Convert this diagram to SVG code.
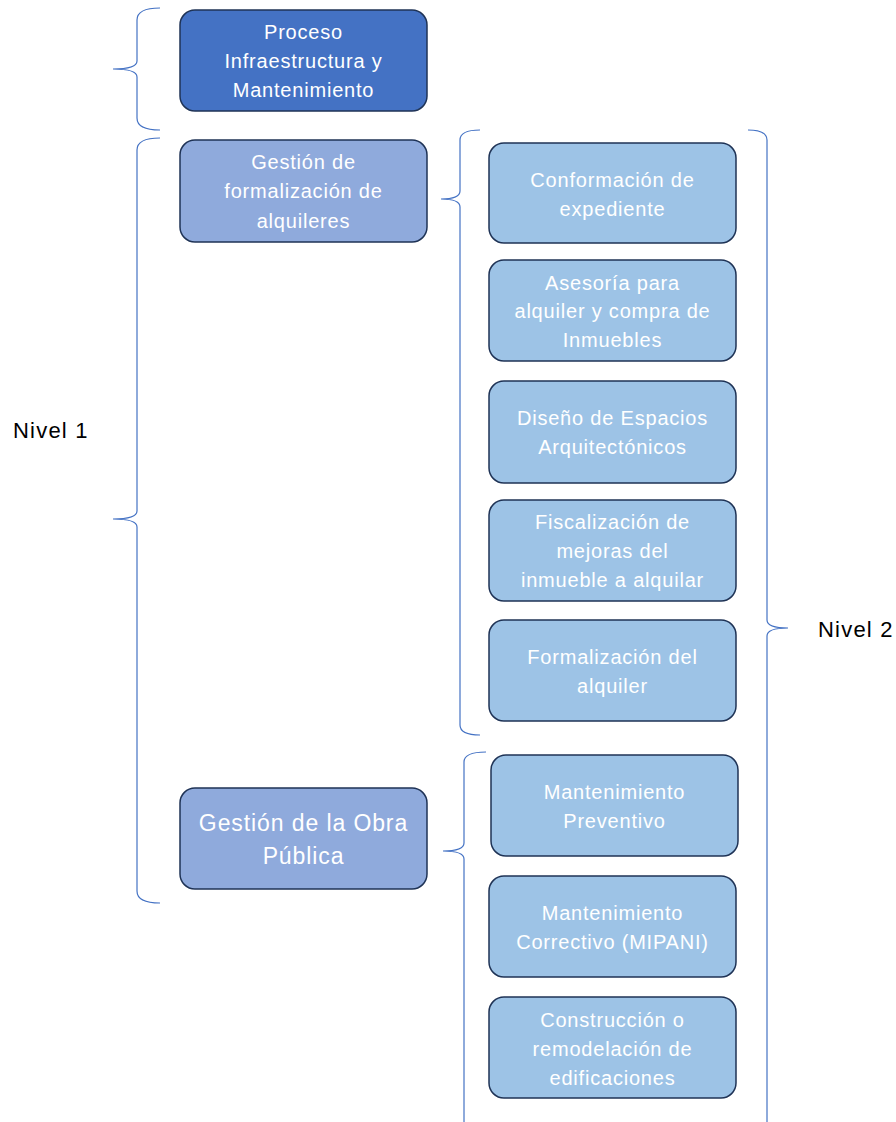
<svg xmlns="http://www.w3.org/2000/svg" width="896" height="1122" viewBox="0 0 896 1122">
<style>
.box{stroke:#1F3356;stroke-width:1.5}
.l0{fill:#4472C4}
.l1{fill:#8FAADC}
.l2{fill:#9DC3E6}
.t{font-family:"Liberation Sans",Arial,sans-serif;font-size:20px;fill:#FFFFFF;text-anchor:middle;letter-spacing:0.8px}
.tb{font-size:23px;letter-spacing:0.9px}
.lab{font-family:"Liberation Sans",Arial,sans-serif;font-size:22px;fill:#000000;letter-spacing:1.2px}
.br{fill:none;stroke:#4472C4;stroke-width:1.2}
</style>
<rect width="896" height="1122" fill="#FFFFFF"/>
<g id="connectors">
<path class="br" d="M160,8 Q137,8 137,20 L137,61 Q137,69 113,69 Q137,69 137,77 L137,118 Q137,130 160,130"/>
<path class="br" d="M160,138 Q137,138 137,150 L137,511 Q137,519 113,519 Q137,519 137,527 L137,891 Q137,903 160,903"/>
<path class="br" d="M480,130 Q460,130 460,140 L460,191 Q460,199 441,199 Q460,199 460,207 L460,725 Q460,735 480,735"/>
<path class="br" d="M748,130 Q767,130 767,140 L767,620 Q767,628 788,628 Q767,628 767,636 L767,1130"/>
<path class="br" d="M486,752 Q464,752 464,762 L464,843 Q464,851 443,851 Q464,851 464,859 L464,1130"/>
</g>
<g id="proceso">
<rect class="box l0" x="180" y="10" width="247" height="101" rx="15"/>
<text class="t" x="303.5" y="39">Proceso</text>
<text class="t" x="303.5" y="68">Infraestructura y</text>
<text class="t" x="303.5" y="97">Mantenimiento</text>
</g>
<g id="gestion-alquileres">
<rect class="box l1" x="180" y="140" width="247" height="102" rx="15"/>
<text class="t" x="303.5" y="169">Gestión de</text>
<text class="t" x="303.5" y="198">formalización de</text>
<text class="t" x="303.5" y="228">alquileres</text>
</g>
<g id="gestion-obra">
<rect class="box l1" x="180" y="788" width="247" height="101" rx="15"/>
<text class="t tb" x="303.5" y="831">Gestión de la Obra</text>
<text class="t tb" x="303.5" y="864">Pública</text>
</g>
<g id="conformacion">
<rect class="box l2" x="489" y="143" width="247" height="100" rx="15"/>
<text class="t" x="612.5" y="187">Conformación de</text>
<text class="t" x="612.5" y="216">expediente</text>
</g>
<g id="asesoria">
<rect class="box l2" x="489" y="260" width="247" height="101" rx="15"/>
<text class="t" x="612.5" y="290">Asesoría para</text>
<text class="t" x="612.5" y="318">alquiler y compra de</text>
<text class="t" x="612.5" y="347">Inmuebles</text>
</g>
<g id="diseno">
<rect class="box l2" x="489" y="381" width="247" height="102" rx="15"/>
<text class="t" x="612.5" y="425">Diseño de Espacios</text>
<text class="t" x="612.5" y="454">Arquitectónicos</text>
</g>
<g id="fiscalizacion">
<rect class="box l2" x="489" y="500" width="247" height="101" rx="15"/>
<text class="t" x="612.5" y="529">Fiscalización de</text>
<text class="t" x="612.5" y="558">mejoras del</text>
<text class="t" x="612.5" y="587">inmueble a alquilar</text>
</g>
<g id="formalizacion">
<rect class="box l2" x="489" y="620" width="247" height="101" rx="15"/>
<text class="t" x="612.5" y="664">Formalización del</text>
<text class="t" x="612.5" y="693">alquiler</text>
</g>
<g id="mant-preventivo">
<rect class="box l2" x="491" y="755" width="247" height="101" rx="15"/>
<text class="t" x="614.5" y="799">Mantenimiento</text>
<text class="t" x="614.5" y="828">Preventivo</text>
</g>
<g id="mant-correctivo">
<rect class="box l2" x="489" y="876" width="247" height="101" rx="15"/>
<text class="t" x="612.5" y="920">Mantenimiento</text>
<text class="t" x="612.5" y="949">Correctivo (MIPANI)</text>
</g>
<g id="construccion">
<rect class="box l2" x="489" y="997" width="247" height="101" rx="15"/>
<text class="t" x="612.5" y="1027">Construcción o</text>
<text class="t" x="612.5" y="1056">remodelación de</text>
<text class="t" x="612.5" y="1085">edificaciones</text>
</g>
<g id="nivel1">
<text class="lab" x="13" y="438">Nivel 1</text>
</g>
<g id="nivel2">
<text class="lab" x="818" y="637">Nivel 2</text>
</g>
</svg>
